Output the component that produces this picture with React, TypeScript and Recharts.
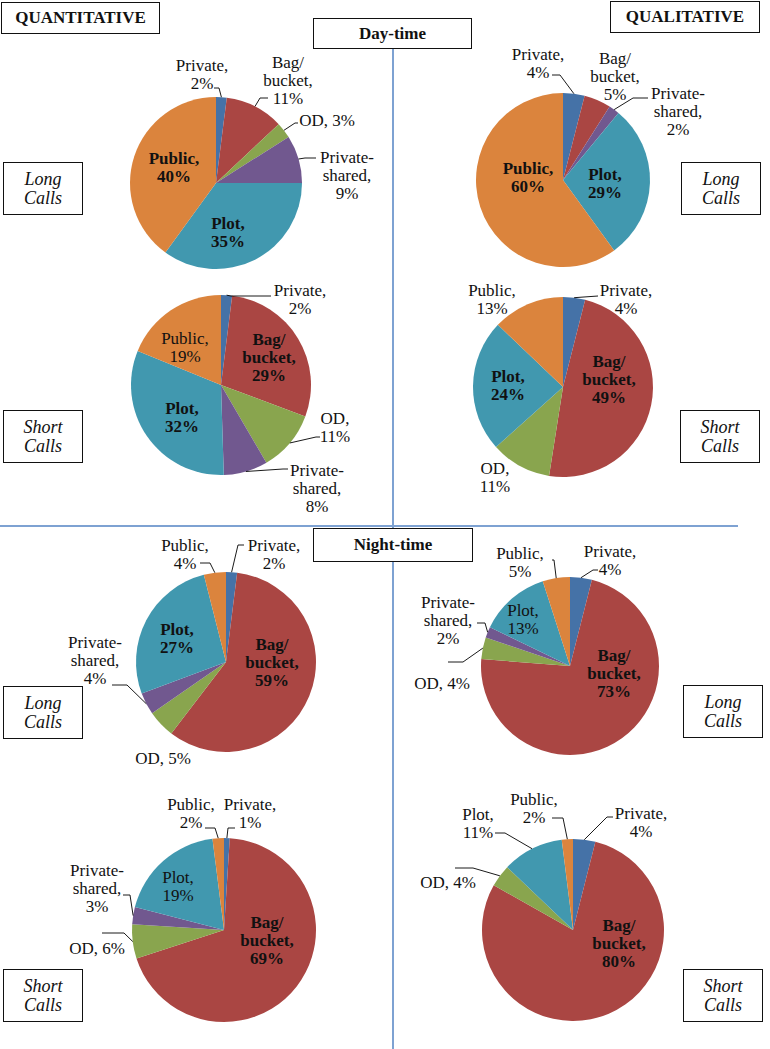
import { PieChart, Pie, Cell } from "recharts"

const CATEGORIES = ["Private", "Bag/bucket", "OD", "Private-shared", "Plot", "Public"]
const COLORS = ["#4572A7", "#AA4643", "#89A54E", "#71588F", "#4198AF", "#DB843D"]

// percentages, in CATEGORIES order (0 = category absent)
const QUANT_DAY_LONG = [2, 11, 3, 9, 35, 40]
const QUAL_DAY_LONG = [4, 5, 0, 2, 29, 60]
const QUANT_DAY_SHORT = [2, 29, 11, 8, 32, 19]
const QUAL_DAY_SHORT = [4, 49, 11, 0, 24, 13]
const QUANT_NIGHT_LONG = [2, 59, 5, 4, 27, 4]
const QUAL_NIGHT_LONG = [4, 73, 4, 2, 13, 5]
const QUANT_NIGHT_SHORT = [1, 69, 6, 3, 19, 2]
const QUAL_NIGHT_SHORT = [4, 80, 4, 0, 11, 2]

const NAME_LINES: Record<string, string[]> = {
  Private: ["Private,"],
  "Bag/bucket": ["Bag/", "bucket,"],
  OD: ["OD,"],
  "Private-shared": ["Private-", "shared,"],
  Plot: ["Plot,"],
  Public: ["Public,"],
}

const FONT = `"Liberation Serif", "DejaVu Serif", serif`

type LabelPos = { dx: number; dy: number; bold?: boolean; inline?: boolean; leader?: [number, number, number] }

// label placement relative to each pie centre
const PIES: { values: number[]; cx: number; cy: number; r: number; labels: Record<string, LabelPos> }[] = [
  {
    values: QUANT_DAY_LONG, cx: 211, cy: 178, r: 86,
    labels: {
      Private: { dx: -14, dy: -109, leader: [3, -95, -2] },
      "Bag/bucket": { dx: 72, dy: -103, leader: [44, -85, 52] },
      OD: { dx: 111, dy: -63, inline: true, leader: [79, -60, 82] },
      "Private-shared": { dx: 131, dy: -8, leader: [89, -25, 100] },
      Plot: { dx: 12, dy: 49, bold: true },
      Public: { dx: -42, dy: -16, bold: true },
    },
  },
  {
    values: QUAL_DAY_LONG, cx: 558, cy: 175, r: 87,
    labels: {
      Private: { dx: -25, dy: -117, leader: [-3, -105, -11] },
      "Bag/bucket": { dx: 52, dy: -104 },
      "Private-shared": { dx: 115, dy: -69, leader: [70, -82, 85] },
      Plot: { dx: 42, dy: 3, bold: true },
      Public: { dx: -35, dy: -3, bold: true },
    },
  },
  {
    values: QUANT_DAY_SHORT, cx: 216, cy: 380, r: 90,
    labels: {
      Private: { dx: 79, dy: -86, leader: [10, -89, 50] },
      "Bag/bucket": { dx: 48, dy: -28, bold: true },
      OD: { dx: 114, dy: 42, leader: [95, 52, 99] },
      "Private-shared": { dx: 96, dy: 103, leader: [62, 84, 67] },
      Plot: { dx: -39, dy: 32, bold: true },
      Public: { dx: -36, dy: -38 },
    },
  },
  {
    values: QUAL_DAY_SHORT, cx: 558, cy: 382, r: 90,
    labels: {
      Private: { dx: 63, dy: -88, leader: [35, -91, 35] },
      "Bag/bucket": { dx: 46, dy: -8, bold: true },
      OD: { dx: -68, dy: 90 },
      Plot: { dx: -55, dy: -2, bold: true },
      Public: { dx: -71, dy: -88 },
    },
  },
  {
    values: QUANT_NIGHT_LONG, cx: 221, cy: 657, r: 90,
    labels: {
      Private: { dx: 48, dy: -108, leader: [12, -117, 18] },
      "Bag/bucket": { dx: 46, dy: 0, bold: true },
      OD: { dx: -63, dy: 96, inline: true },
      "Private-shared": { dx: -131, dy: -2, leader: [-99, 23, -114] },
      Plot: { dx: -49, dy: -24, bold: true },
      Public: { dx: -41, dy: -108, leader: [-16, -99, -26] },
    },
  },
  {
    values: QUAL_NIGHT_LONG, cx: 565, cy: 661, r: 89,
    labels: {
      Private: { dx: 40, dy: -106, leader: [23, -96, 28] },
      "Bag/bucket": { dx: 44, dy: 7, bold: true },
      OD: { dx: -128, dy: 17, inline: true, leader: [-107, -4, -122] },
      "Private-shared": { dx: -122, dy: -46, leader: [-85, -43, -93] },
      Plot: { dx: -47, dy: -47 },
      Public: { dx: -50, dy: -104, leader: [-16, -106, -18] },
    },
  },
  {
    values: QUANT_NIGHT_SHORT, cx: 219, cy: 925, r: 92,
    labels: {
      Private: { dx: 26, dy: -117, leader: [4, -102, 11] },
      "Bag/bucket": { dx: 43, dy: 10, bold: true },
      OD: { dx: -127, dy: 18, inline: true, leader: [-100, 3, -122] },
      "Private-shared": { dx: -127, dy: -42, leader: [-94, -35, -101] },
      Plot: { dx: -46, dy: -44 },
      Public: { dx: -33, dy: -117, leader: [-9, -102, -19] },
    },
  },
  {
    values: QUAL_NIGHT_SHORT, cx: 568, cy: 925, r: 91,
    labels: {
      Private: { dx: 68, dy: -108, leader: [34, -113, 40] },
      "Bag/bucket": { dx: 46, dy: 13, bold: true },
      OD: { dx: -125, dy: -48, inline: true, leader: [-100, -62, -118] },
      Plot: { dx: -95, dy: -107, leader: [-68, -97, -78] },
      Public: { dx: -39, dy: -122, leader: [-10, -112, -21] },
    },
  },
]

const LH = 18
const RADIAN = Math.PI / 180

const makeLabel = (data: any[], labels: Record<string, LabelPos>) => (props: any) => {
  const { cx, cy, midAngle, outerRadius, index } = props
  const entry = data[index]
  const pos = labels[entry.name]
  if (!pos) return null
  const pct = `${entry.value}%`
  const base = NAME_LINES[entry.name]
  const lines = pos.inline ? [...base.slice(0, -1), `${base[base.length - 1]} ${pct}`] : [...base, pct]
  const x = cx + pos.dx
  const y = cy + pos.dy
  let leader = null
  if (pos.leader) {
    const ax = cx + outerRadius * Math.cos(-midAngle * RADIAN)
    const ay = cy + outerRadius * Math.sin(-midAngle * RADIAN)
    const [ex, ey, sx] = pos.leader
    leader = (
      <path
        d={`M${ax},${ay}L${cx + ex},${cy + ey}L${cx + sx},${cy + ey}`}
        stroke="#000"
        strokeWidth={0.9}
        fill="none"
      />
    )
  }
  return (
    <g key={`lbl-${entry.name}-${index}`}>
      {leader}
      {lines.map((t, i) => (
        <text
          key={i}
          x={x}
          y={y + (i - (lines.length - 1) / 2) * LH}
          textAnchor="middle"
          dominantBaseline="central"
          style={{ fontFamily: FONT }}
          fontSize={17}
          fontWeight={pos.bold ? "bold" : "normal"}
          fill="#111"
        >
          {t}
        </text>
      ))}
    </g>
  )
}

const boxStyle = (left: number, top: number, width: number, height: number, extra: any = {}) => ({
  position: "absolute" as const,
  left,
  top,
  width,
  height,
  boxSizing: "border-box" as const,
  border: "1.3px solid #111",
  background: "#fff",
  display: "flex",
  flexDirection: "column" as const,
  alignItems: "center",
  justifyContent: "center",
  fontFamily: FONT,
  color: "#111",
  ...extra,
})

const TitleBox = ({ left, top, width, height, text }: any) => (
  <div style={boxStyle(left, top, width, height, { fontWeight: "bold", fontSize: 17 })}>{text}</div>
)

const CallBox = ({ left, top, kind }: any) => (
  <div style={boxStyle(left, top, 80, 53, { fontStyle: "italic", fontSize: 18, lineHeight: "19px" })}>
    <span>{kind}</span>
    <span>Calls</span>
  </div>
)

export default function App() {
  return (
    <div style={{ position: "absolute", left: 0, top: 0, width: 770, height: 1049, background: "#fff", overflow: "hidden", fontFamily: FONT }}>
      <div style={{ position: "absolute", left: 392, top: 48, width: 1.5, height: 1001, background: "#7EA2D2" }} />
      <div style={{ position: "absolute", left: 0, top: 525, width: 738, height: 1.5, background: "#7EA2D2" }} />
      <div style={{ position: "absolute", left: 0, top: 0 }}>
        <PieChart width={770} height={1049}>
          {PIES.map((p, pi) => {
            const data = CATEGORIES.map((name, i) => ({ name, value: p.values[i], color: COLORS[i] })).filter(
              (d) => d.value > 0
            )
            return (
              <Pie
                key={pi}
                data={data}
                dataKey="value"
                nameKey="name"
                cx={p.cx}
                cy={p.cy}
                outerRadius={p.r}
                innerRadius={0}
                startAngle={90}
                endAngle={-270}
                stroke="none"
                labelLine={false}
                label={makeLabel(data, p.labels)}
                isAnimationActive={false}
              >
                {data.map((d, i) => (
                  <Cell key={`c-${pi}-${i}`} fill={d.color} stroke="none" />
                ))}
              </Pie>
            )
          })}
        </PieChart>
      </div>
      <TitleBox left={1} top={2} width={159} height={32} text="QUANTITATIVE" />
      <TitleBox left={313} top={18} width={159} height={31} text="Day-time" />
      <TitleBox left={610} top={1} width={150} height={32} text="QUALITATIVE" />
      <TitleBox left={313} top={528} width={160} height={34} text="Night-time" />
      <CallBox left={3} top={162} kind="Long" />
      <CallBox left={681} top={162} kind="Long" />
      <CallBox left={3} top={410} kind="Short" />
      <CallBox left={680} top={410} kind="Short" />
      <CallBox left={3} top={686} kind="Long" />
      <CallBox left={683} top={685} kind="Long" />
      <CallBox left={3} top={969} kind="Short" />
      <CallBox left={683} top={969} kind="Short" />
    </div>
  )
}
